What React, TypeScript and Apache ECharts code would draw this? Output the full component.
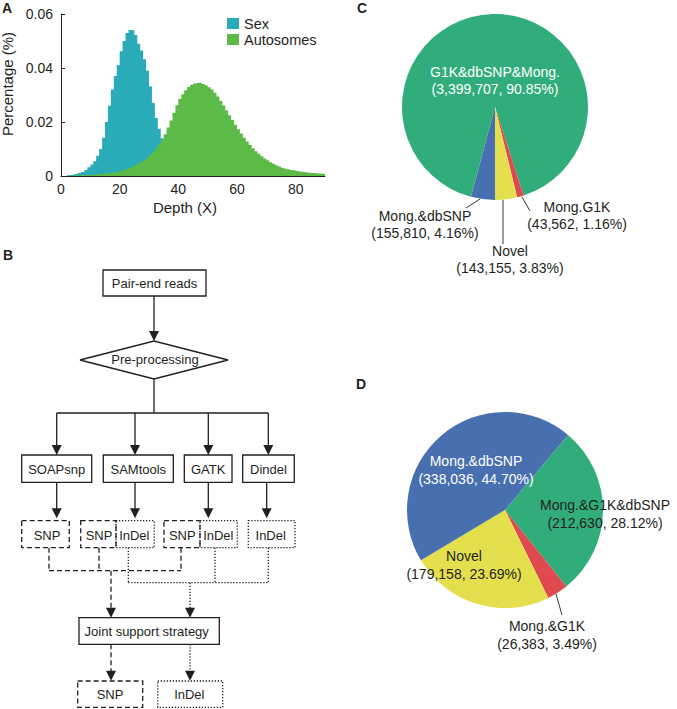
import React, { useEffect, useRef } from "react";
import * as echarts from "echarts";

// ---------- Panel A: depth distribution (bins of 1X, from 0 to 90X) ----------
const depthBinStarts = Array.from({ length: 90 }, (_, i) => i);
const sexPct = [
  0, 0, 0.0003, 0.0005, 0.0007, 0.0009, 0.0012, 0.0015, 0.0022, 0.0032,
  0.0042, 0.0055, 0.0075, 0.0100, 0.0142, 0.0200, 0.0260, 0.0320, 0.0370, 0.0410,
  0.0462, 0.0500, 0.0530, 0.0541, 0.0540, 0.0522, 0.0490, 0.0465, 0.0432, 0.0390,
  0.0332, 0.0270, 0.0215, 0.0175, 0.0140, 0.0110, 0.0085, 0.0065, 0.0048, 0.0036,
  0.0027, 0.0020, 0.0014, 0.0010, 0.0007, 0.0005, 0.0003, 0.0002, 0.0001, 0.0001,
  0, 0, 0, 0, 0, 0, 0, 0, 0, 0,
  0, 0, 0, 0, 0, 0, 0, 0, 0, 0,
  0, 0, 0, 0, 0, 0, 0, 0, 0, 0,
  0, 0, 0, 0, 0, 0, 0, 0, 0, 0,
];
const autosomePct = [
  0, 0, 0.0001, 0.0002, 0.0002, 0.0003, 0.0003, 0.0004, 0.0004, 0.0005,
  0.0005, 0.0006, 0.0007, 0.0008, 0.0009, 0.0010, 0.0011, 0.0013, 0.0015, 0.0017,
  0.0019, 0.0022, 0.0025, 0.0030, 0.0035, 0.0040, 0.0046, 0.0052, 0.0059, 0.0068,
  0.0078, 0.0090, 0.0103, 0.0118, 0.0135, 0.0155, 0.0180, 0.0206, 0.0234, 0.0262,
  0.0285, 0.0303, 0.0318, 0.0330, 0.0338, 0.0343, 0.0345, 0.0344, 0.0341, 0.0336,
  0.0329, 0.0320, 0.0308, 0.0294, 0.0278, 0.0261, 0.0243, 0.0225, 0.0207, 0.0190,
  0.0173, 0.0157, 0.0142, 0.0128, 0.0115, 0.0103, 0.0092, 0.0082, 0.0073, 0.0065,
  0.0058, 0.0051, 0.0045, 0.0040, 0.0035, 0.0031, 0.0028, 0.0025, 0.0022, 0.0020,
  0.0018, 0.0016, 0.0015, 0.0013, 0.0012, 0.0011, 0.0010, 0.0009, 0.0008, 0.0008,
];
const seriesNamesA = ["Sex", "Autosomes"];

// ---------- Panel C: SNP overlap ----------
const snpNames = ["Mong.&dbSNP", "G1K&dbSNP&Mong.", "Mong.G1K", "Novel"];
const snpCounts = [155810, 3399707, 43562, 143155];

// ---------- Panel D: InDel overlap ----------
const indelNames = ["Mong.&G1K&dbSNP", "Mong.&G1K", "Novel", "Mong.&dbSNP"];
const indelCounts = [212630, 26383, 179158, 338036];

// ---------- styles / layout (not data) ----------
const FONT = "Liberation Sans, Arial, Helvetica, sans-serif";
const INK = "#231f20";
const TEAL = "#29abb8";
const LIME = "#5cbb46";
const snpColors = ["#4870b0", "#31ad7c", "#df4a51", "#e4df4c"];
const snpLabelColors = [INK, "#ffffff", INK, INK];
const snpLabelPos = [[425, 224], [495, 80], [577, 215], [510, 259]];
const indelColors = ["#31ad7c", "#df4a51", "#e4df4c", "#4870b0"];
const indelLabelColors = [INK, INK, INK, "#ffffff"];
const indelLabelPos = [[605, 514], [547, 635], [464, 565], [476, 470]];

const fmtInt = (v: number) => v.toLocaleString("en-US");

// histogram outline: each bin value held from its start to the next bin start
function histSteps(vals: number[]) {
  const pts = depthBinStarts.map((d, i) => [d, vals[i]]);
  pts.push([depthBinStarts[depthBinStarts.length - 1] + 1, vals[vals.length - 1]]);
  return pts;
}

function buildGraphic() {
  const g: any[] = [];
  const lw = 1.3;
  const DASH = [5, 3];
  const DOT = [1.3, 1.7];
  const txt = (x: number, y: number, s: string, size = 13, extra: any = {}) =>
    g.push({
      type: "text",
      x,
      y,
      silent: true,
      rotation: extra.rotation || 0,
      style: {
        text: s,
        font: `${extra.bold ? "bold " : ""}${size}px ${FONT}`,
        fill: extra.fill || INK,
        align: extra.align || "center",
        verticalAlign: extra.va || "middle",
      },
    });
  const box = (x: number, y: number, w: number, h: number, dash?: number[]) =>
    g.push({
      type: "rect",
      silent: true,
      shape: { x, y, width: w, height: h },
      style: { fill: "none", stroke: INK, lineWidth: lw, lineDash: dash || null },
    });
  const ln = (x1: number, y1: number, x2: number, y2: number, dash?: number[], w = lw) =>
    g.push({
      type: "line",
      silent: true,
      shape: { x1, y1, x2, y2 },
      style: { stroke: INK, lineWidth: w, lineDash: dash || null },
    });
  const head = (x: number, yTip: number) =>
    g.push({
      type: "polygon",
      silent: true,
      shape: { points: [[x - 5, yTip - 10], [x + 5, yTip - 10], [x, yTip]] },
      style: { fill: INK },
    });
  const arrow = (x: number, y1: number, yTip: number, dash?: number[]) => {
    ln(x, y1, x, yTip - 8, dash);
    head(x, yTip);
  };

  // panel letters
  txt(2, 8, "A", 14, { bold: true, align: "left" });
  txt(3, 255, "B", 14, { bold: true, align: "left" });
  txt(357, 8, "C", 14, { bold: true, align: "left" });
  txt(356, 384, "D", 14, { bold: true, align: "left" });

  // panel A axis names
  txt(185, 207, "Depth (X)", 15);
  txt(7, 84, "Percentage (%)", 15, { rotation: Math.PI / 2 });

  // panel B flowchart
  box(103, 270, 103, 26);
  txt(154.5, 283, "Pair-end reads");
  arrow(154, 296, 341);
  g.push({
    type: "polygon",
    silent: true,
    shape: { points: [[80, 360], [154, 341], [228, 360], [154, 379]] },
    style: { fill: "none", stroke: INK, lineWidth: lw },
  });
  txt(155, 359.5, "Pre-processing");
  ln(154, 379, 154, 413);
  ln(56.7, 413, 268.3, 413);
  const toolX = [56.7, 135, 208.3, 268.3];
  toolX.forEach((x) => arrow(x, 413, 455));
  const tools: [number, number, string][] = [
    [21.7, 70, "SOAPsnp"],
    [103.3, 70, "SAMtools"],
    [184.3, 47.7, "GATK"],
    [242.7, 51.6, "Dindel"],
  ];
  tools.forEach(([x, w, s]) => {
    box(x, 455, w, 27.3);
    txt(x + w / 2, 469.5, s);
  });
  const tool2X = [56.7, 135, 208.3, 266.7];
  tool2X.forEach((x) => arrow(x, 482.3, 518.3));
  // level-2 result boxes
  const y2 = 520.7, h2 = 27;
  box(21.7, y2, 47.6, h2, DASH); txt(47, 535, "SNP");
  box(80.7, y2, 35.3, h2, DASH); txt(99, 535, "SNP");
  box(116, y2, 38.3, h2, DOT); txt(134.3, 535, "InDel");
  box(164, y2, 36, h2, DASH); txt(182.3, 535, "SNP");
  box(200, y2, 37.3, h2, DOT); txt(218.3, 535, "InDel");
  box(248.3, y2, 46.7, h2, DOT); txt(270.7, 535, "InDel");
  // dashed SNP connectors
  [49, 99, 181].forEach((x) => ln(x, y2 + h2, x, 570.7, DASH));
  ln(49, 570.7, 181, 570.7, DASH);
  arrow(111, 570.7, 617.7, DASH);
  // dotted InDel connectors
  [128.3, 215, 268.3].forEach((x) => ln(x, y2 + h2, x, 582.7, DOT));
  ln(128.3, 582.7, 268.3, 582.7, DOT);
  arrow(190, 582.7, 617.7, DOT);
  // joint support
  box(79, 617.7, 140.3, 26.6);
  txt(146.7, 631.5, "Joint support strategy");
  arrow(111, 644.3, 680.7, DASH);
  arrow(190, 644.3, 680.7, DOT);
  box(77.7, 681, 65, 26.3, DASH); txt(110, 694.5, "SNP");
  box(157.7, 681, 65, 26.3, DOT); txt(189.3, 694.5, "InDel");

  // pie leader lines
  ln(480, 199, 466, 208, undefined, 0.9);
  ln(503, 200, 503, 244, undefined, 0.9);
  ln(522, 197, 530, 211, undefined, 0.9);
  ln(556, 594, 562, 615, undefined, 0.9);
  return g;
}

function pieLabel(p: any) {
  return `${p.name}\n(${fmtInt(p.value)}, ${Number(p.percent).toFixed(2)}%)`;
}

export default function App() {
  const ref = useRef<HTMLDivElement>(null);
  useEffect(() => {
    if (!ref.current) return;
    const chart = echarts.init(ref.current, undefined, { renderer: "svg" });
    const histSeries = (name: string, vals: number[], color: string) => ({
      type: "line",
      name,
      data: histSteps(vals),
      step: "end",
      showSymbol: false,
      symbol: "none",
      silent: true,
      itemStyle: { color },
      lineStyle: { width: 0, color },
      areaStyle: { color, opacity: 1 },
    });
    const option: any = {
      animation: false,
      backgroundColor: "#ffffff",
      textStyle: { fontFamily: FONT, color: INK },
      legend: {
        data: seriesNamesA,
        orient: "vertical",
        left: 227,
        top: 16,
        padding: 0,
        itemGap: 1,
        itemWidth: 12,
        itemHeight: 11,
        icon: "rect",
        selectedMode: false,
        textStyle: { fontSize: 14.5, lineHeight: 13, color: INK, fontFamily: FONT },
      },
      grid: { left: 61, top: 14, width: 264, height: 162 },
      xAxis: {
        type: "value",
        min: 0,
        max: 90,
        interval: 20,
        axisLine: { lineStyle: { color: INK, width: 1 } },
        axisTick: { inside: true, length: 4, lineStyle: { color: INK } },
        axisLabel: { fontSize: 14, color: INK, margin: 6, showMaxLabel: false, fontFamily: FONT },
        splitLine: { show: false },
      },
      yAxis: {
        type: "value",
        min: 0,
        max: 0.06,
        interval: 0.02,
        axisLine: { show: true, lineStyle: { color: INK, width: 1 } },
        axisTick: { show: true, inside: true, length: 4, lineStyle: { color: INK } },
        axisLabel: { fontSize: 14, color: INK, margin: 8, fontFamily: FONT },
        splitLine: { show: false },
      },
      series: [
        histSeries(seriesNamesA[0], sexPct, TEAL),
        histSeries(seriesNamesA[1], autosomePct, LIME),
        {
          type: "pie",
          name: "SNP",
          center: [495, 107],
          radius: 93,
          startAngle: 270,
          clockwise: true,
          silent: true,
          avoidLabelOverlap: false,
          percentPrecision: 2,
          data: snpNames.map((n, i) => ({
            name: n,
            value: snpCounts[i],
            itemStyle: { color: snpColors[i] },
            label: { color: snpLabelColors[i] },
          })),
          label: {
            show: true,
            position: "inside",
            formatter: pieLabel,
            fontSize: 14,
            lineHeight: 17,
            fontFamily: FONT,
            align: "center",
          },
          labelLine: { show: false },
          labelLayout: (p: any) => ({
            x: snpLabelPos[p.dataIndex][0],
            y: snpLabelPos[p.dataIndex][1],
            align: "center",
            verticalAlign: "middle",
          }),
        },
        {
          type: "pie",
          name: "InDel",
          center: [505, 510],
          radius: 98,
          startAngle: 50,
          clockwise: true,
          silent: true,
          avoidLabelOverlap: false,
          percentPrecision: 2,
          data: indelNames.map((n, i) => ({
            name: n,
            value: indelCounts[i],
            itemStyle: { color: indelColors[i] },
            label: { color: indelLabelColors[i] },
          })),
          label: {
            show: true,
            position: "inside",
            formatter: pieLabel,
            fontSize: 14,
            lineHeight: 18,
            fontFamily: FONT,
            align: "center",
          },
          labelLine: { show: false },
          labelLayout: (p: any) => ({
            x: indelLabelPos[p.dataIndex][0],
            y: indelLabelPos[p.dataIndex][1],
            align: "center",
            verticalAlign: "middle",
          }),
        },
      ],
      graphic: buildGraphic(),
    };
    chart.setOption(option);
    return () => chart.dispose();
  }, []);
  return (
    <div
      ref={ref}
      style={{ position: "fixed", left: 0, top: 0, width: 677, height: 709, background: "#fff" }}
    />
  );
}
